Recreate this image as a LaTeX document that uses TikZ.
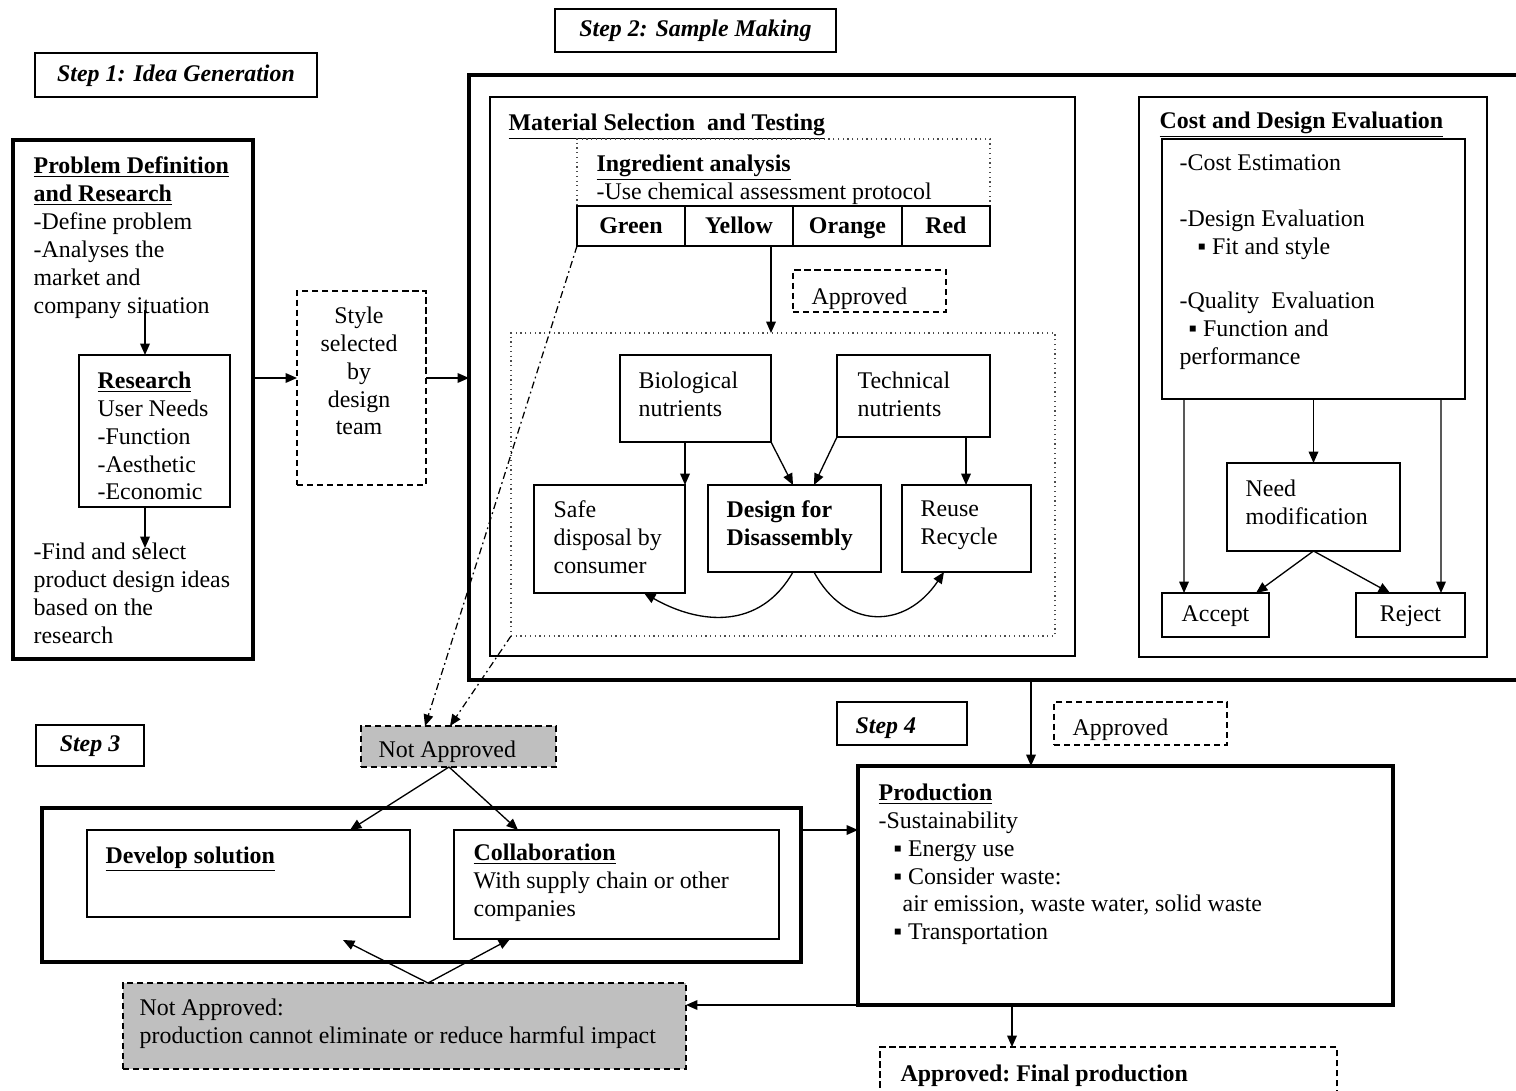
\documentclass[tikz,border=0pt]{standalone}
\usepackage{fontspec}
\setmainfont{Liberation Serif}
\usetikzlibrary{arrows.meta,calc,fit,positioning}

\begin{document}
\begin{tikzpicture}[x=0.02cm,y=-0.02cm,line width=0.75pt,>={Triangle[length=6.5pt,width=5.5pt]},font=\fontsize{13.6}{15.9}\selectfont]
  \tikzstyle{box}=[draw,line width=0.9pt,inner sep=0pt,outer sep=0pt]
  \tikzstyle{bigbox}=[draw,line width=1.8pt,inner sep=0pt,outer sep=0pt]
  \tikzstyle{dashbox}=[draw,line width=0.9pt,dash pattern=on 3.5pt off 2.2pt,inner sep=0pt,outer sep=0pt]
  \tikzstyle{dotbox}=[draw,line width=0.7pt,dotted,black!70,inner sep=0pt,outer sep=0pt]
  \tikzstyle{greybox}=[dashbox,fill=black!25]
  \tikzstyle{lbl}=[box,text height=10pt,text depth=3pt]
  \tikzstyle{cell}=[lbl,text depth=2pt,minimum height=0.8cm,font=\fontsize{13.6}{15.9}\selectfont\bfseries]
  \tikzstyle{txt}=[anchor=north west,align=left,inner sep=0pt,yshift=-0.08cm,execute at begin node=\strut]
  \tikzstyle{ctxt}=[anchor=north,align=center,inner sep=0pt,yshift=-0.08cm,execute at begin node=\strut]
  \tikzstyle{dashdot}=[line width=0.7pt,dash pattern=on 4pt off 2pt on 1pt off 2pt]
  \useasboundingbox (0,0) rectangle (1516,1091);

  % step 1
  \node[lbl,minimum width=5.64cm,minimum height=0.88cm] (step1) at (176,75) {\textbf{\textit{Step 1: Idea Generation}}};
  \node[bigbox,fit={(13,140)(253,659)}] (prob) {};
  \node[txt] (prob-t) at (33,152) {\underline{\textbf{Problem Definition}}\\\underline{\textbf{and Research}}\\-Define problem\\-Analyses the\\market and\\company situation};
  \coordinate (r-in) at (145,310);
  \node[box,fit={(79,355)(230,507)}] (res) {};
  \node[txt] (res-t) at (97,367) {\underline{\textbf{Research}}\\User Needs\\-Function\\-Aesthetic\\-Economic};
  \coordinate (r-out) at (145,548);
  \node[txt] (find-t) at (33,538) {-Find and select\\product design ideas\\based on the\\research};
  \draw[->] (r-in) -- (r-in |- res.north);
  \draw[->] (res.south -| r-out) -- (r-out);

  \node[dashbox,fit={(297,291)(426,485)}] (style) {};
  \node[ctxt] (style-t) at (359,302) {Style\\selected\\by\\design\\team};

  % step 2
  \node[lbl,minimum width=5.62cm,minimum height=0.86cm] (step2) at (695.5,30.5) {\textbf{\textit{Step 2: Sample Making}}};
  \node[bigbox,fit={(469,75)(1540,680)}] (sample) {};
  \coordinate (row) at (0,378);
  \draw[->] (prob.east |- row) -- (style.west |- row);
  \draw[->] (style.east |- row) -- (sample.west |- row);

  \node[box,fit={(490,97)(1075,656)}] (mat) {};
  \node[txt] (mat-t) at (508,106) {\underline{\textbf{Material Selection\ \ and Testing}}};
  \node[dotbox,fit={(577,139)(990,206)}] (ingr) {};
  \node[txt] (ingr-t) at (596,150) {\underline{\textbf{Ingredient analysis}}\\-Use chemical assessment protocol};
  \node[cell,minimum width=2.16cm,anchor=north west] (green) at (ingr.south west) {Green};
  \node[cell,minimum width=2.16cm,right=0pt of green] (yellow) {Yellow};
  \node[cell,minimum width=2.18cm,right=0pt of yellow] (orange) {Orange};
  \node[cell,minimum width=1.76cm,right=0pt of orange] (red) {Red};

  \node[dashbox,fit={(793,270)(946,312)}] (app1) {};
  \node[txt] (app1-t) at (811,280) {Approved};
  \node[dotbox,fit={(511,333)(1055,636)}] (inner) {};
  \coordinate (y-out) at (771,0);
  \draw[->] (yellow.south -| y-out) -- (inner.north -| y-out);

  \node[box,fit={(620,355)(771,442)}] (bio) {};
  \node[txt] (bio-t) at (638,367) {Biological\\nutrients};
  \node[box,fit={(837,355)(990,437)}] (tech) {};
  \node[txt] (tech-t) at (857,367) {Technical\\nutrients};
  \node[box,fit={(534,485)(685,593)}] (safe) {};
  \node[txt] (safe-t) at (553,496) {Safe\\disposal by\\consumer};
  \node[box,fit={(708,485)(881,572)}] (dfd) {};
  \node[txt] (dfd-t) at (726,496) {\textbf{Design for}\\\textbf{Disassembly}};
  \node[box,fit={(902,485)(1031,572)}] (reuse) {};
  \node[txt] (reuse-t) at (920,496) {Reuse\\Recycle};
  \coordinate (t-r) at ($(reuse.north west)+(64,0)$);
  \draw[->] (bio.south -| safe.east) -- (safe.north east);
  \draw[->] (bio.south east) -- ($(dfd.north west)+(85,0)$);
  \draw[->] (tech.south west) -- ($(dfd.north west)+(106,0)$);
  \draw[->] (tech.south -| t-r) -- (t-r);
  \draw[->] ($(dfd.south west)+(85,0)$) .. controls (760,630) and (700,625) .. ($(safe.south west)+(110,0)$);
  \draw[->] ($(dfd.south west)+(106,0)$) .. controls (845,630) and (905,630) .. ($(reuse.south west)+(42,0)$);

  \node[box,fit={(1139,97)(1487,657)}] (cost) {};
  \node[txt] (cost-t) at (1159,104) {\underline{\textbf{Cost and Design Evaluation}}};
  \node[box,fit={(1162,139)(1465,399)}] (eval) {};
  \node[txt] (eval-t) at (1179,150) {-Cost Estimation\\[15.9pt]-Design Evaluation\\\hspace*{0.36cm}▪ Fit and style\\[14.8pt]-Quality\ \ Evaluation\\\hspace*{0.18cm}▪ Function and\\performance};
  \node[box,fit={(1227,463)(1400,551)}] (need) {};
  \node[txt] (need-t) at (1245,475) {Need\\modification};
  \node[lbl,minimum width=2.14cm,minimum height=0.88cm] (accept) at (1215.5,615) {Accept};
  \node[lbl,minimum width=2.18cm,minimum height=0.88cm] (reject) at (1410.5,615) {Reject};
  \draw[->] ($(eval.south west)+(22,0)$) -- ($(accept.north west)+(22,0)$);
  \draw[->] (eval.south) -- (need.north);
  \draw[->] ($(eval.south east)+(-24,0)$) -- ($(reject.north east)+(-24,0)$);
  \draw[->] (need.south) -- ($(accept.north west)+(94,0)$);
  \draw[->] (need.south) -- ($(reject.north west)+(34,0)$);

  % step 3
  \node[lbl,minimum width=2.16cm,minimum height=0.82cm] (step3) at (90,745.5) {\textbf{\textit{Step 3}}};
  \node[greybox,fit={(361,726)(556,767)}] (na1) {};
  \node[txt] (na1-t) at (378,733) {Not Approved};
  \draw[->,dashdot] (green.south west) -- ($(na1.north west)+(64,0)$);
  \draw[->,dashdot] (inner.south west) -- ($(na1.north west)+(89,0)$);
  \node[bigbox,fit={(42,808)(801,962)}] (sol) {};
  \node[box,fit={(87,830)(410,917)}] (dev) {};
  \node[txt] (dev-t) at (105,839) {\underline{\textbf{Develop solution}}};
  \node[box,fit={(454,830)(779,939)}] (collab) {};
  \node[txt] (collab-t) at (473,839) {\underline{\textbf{Collaboration}}\\With supply chain or other\\companies};
  \draw[->] ($(na1.south west)+(88,0)$) -- ($(dev.north west)+(263,0)$);
  \draw[->] ($(na1.south west)+(88,0)$) -- ($(collab.north west)+(64,0)$);
  \node[greybox,fit={(123,983)(686,1069)}] (na2) {};
  \node[txt] (na2-t) at (139,994) {Not Approved:\\production cannot eliminate or reduce harmful impact};
  \coordinate (back) at (343,940);
  \draw[->] ($(na2.north west)+(305,0)$) -- (back);
  \draw[->] ($(na2.north west)+(305,0)$) -- ($(collab.south west)+(56,0)$);

  % step 4
  \node[box,fit={(837,702)(967,745)}] (step4) {};
  \node[txt] (step4-t) at (855,709) {\textbf{\textit{Step 4}}};
  \node[dashbox,fit={(1054,702)(1227,745)}] (app2) {};
  \node[txt] (app2-t) at (1072,711) {Approved};
  \node[bigbox,fit={(858,766)(1393,1005)}] (prod) {};
  \node[txt] (prod-t) at (878,779) {\underline{\textbf{Production}}\\-Sustainability\\\hspace*{0.3cm}▪ Energy use\\\hspace*{0.3cm}▪ Consider waste:\\\hspace*{0.48cm}air emission, waste water, solid waste\\\hspace*{0.3cm}▪ Transportation};
  \coordinate (p-in) at ($(prod.north west)+(173,0)$);
  \coordinate (s-p) at (0,830);
  \draw[->] (sample.south -| p-in) -- (p-in);
  \draw[->] (sol.east |- s-p) -- (prod.west |- s-p);
  \draw[->] (prod.south west) -- (na2.east |- prod.south west);
  \node[dashbox,fit={(880,1047)(1337,1110)}] (final) {};
  \node[txt] (final-t) at (900,1057) {\textbf{Approved:\ Final production}};
  \draw[->] ($(prod.south west)+(154,0)$) -- ($(final.north west)+(132,0)$);
\end{tikzpicture}
\end{document}
